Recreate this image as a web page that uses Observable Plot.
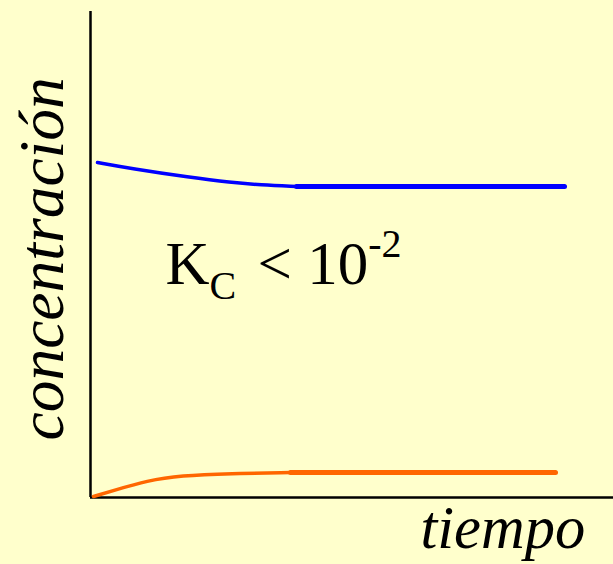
<!DOCTYPE html>
<html>
<head>
<meta charset="utf-8">
<script src="https://cdn.jsdelivr.net/npm/d3@7"></script>
<script src="https://cdn.jsdelivr.net/npm/@observablehq/plot@0.6"></script>
<style>
  html, body { margin: 0; padding: 0; background: #FFFFCC; }
</style>
</head>
<body>
<div id="chart"></div>
<script>
// time (arbitrary units) and concentration (arbitrary units)
const blueCurveT = [0.14, 0.8, 2.0, 2.8, 3.4, 4.12];
const blueCurveC = [6.7, 6.58, 6.4, 6.3, 6.25, 6.22];
const blueFlatT = [4.12, 9.48];
const blueFlatC = [6.22, 6.22];

const orangeCurveT = [0.06, 0.46, 1.14, 1.8, 2.8, 4.0];
const orangeCurveC = [0.02, 0.14, 0.34, 0.44, 0.48, 0.5];
const orangeFlatT = [4.0, 9.3];
const orangeFlatC = [0.5, 0.5];

const axisMaxT = 10.46;
const axisMaxC = 9.72;

const xLabel = "tiempo";
const yLabel = "concentración";
const kLabel = "KC < 10-2";

const toRows = (ts, cs) => ts.map((t, i) => ({t, c: cs[i]}));

const serif = "'Liberation Serif', 'Times New Roman', Times, serif";

const chart = Plot.plot({
  width: 613,
  height: 564,
  marginLeft: 90,
  marginRight: 0,
  marginTop: 11,
  marginBottom: 67,
  x: {domain: [0, axisMaxT], axis: null},
  y: {domain: [0, axisMaxC], axis: null},
  style: {background: "#FFFFCC", fontFamily: serif, overflow: "visible"},
  marks: [
    Plot.ruleX([0], {y1: 0, y2: axisMaxC, stroke: "black", strokeWidth: 2.5}),
    Plot.ruleY([0], {x1: 0, x2: axisMaxT, stroke: "black", strokeWidth: 2.5}),
    Plot.line(toRows(blueCurveT, blueCurveC), {x: "t", y: "c", stroke: "#0000FF", strokeWidth: 3.5, curve: "basis"}),
    Plot.line(toRows(blueFlatT, blueFlatC), {x: "t", y: "c", stroke: "#0000FF", strokeWidth: 5}),
    Plot.line(toRows(orangeCurveT, orangeCurveC), {x: "t", y: "c", stroke: "#FF6600", strokeWidth: 3.5, curve: "basis"}),
    Plot.line(toRows(orangeFlatT, orangeFlatC), {x: "t", y: "c", stroke: "#FF6600", strokeWidth: 5}),
    Plot.text([yLabel], {x: -0.56, y: 1.14, text: d => d, rotate: -90, textAnchor: "start", lineAnchor: "bottom", fontSize: 63.5, fontStyle: "italic", fill: "black"}),
    Plot.text([xLabel], {x: 6.6, y: -1.0, text: d => d, textAnchor: "start", lineAnchor: "bottom", fontSize: 60.5, fontStyle: "italic", fill: "black"}),
    Plot.text([kLabel], {x: 1.5, y: 4.27, text: d => d, textAnchor: "start", lineAnchor: "bottom", fontSize: 61, fill: "black", className: "klab"})
  ]
});

// rich text for K_C < 10^-2
const kText = chart.querySelector(".klab text");
if (kText) {
  kText.textContent = "";
  const ns = "http://www.w3.org/2000/svg";
  const parts = [
    {s: "K"},
    {s: "C", size: 40, dy: 15},
    {s: " < 10", dy: -15, dx: 6},
    {s: "-2", size: 40, dy: -27}
  ];
  for (const p of parts) {
    const ts = document.createElementNS(ns, "tspan");
    ts.textContent = p.s;
    if (p.size) ts.setAttribute("font-size", p.size);
    if (p.dy) ts.setAttribute("dy", p.dy);
    if (p.dx) ts.setAttribute("dx", p.dx);
    kText.appendChild(ts);
  }
}
document.getElementById("chart").appendChild(chart);
</script>
</body>
</html>
